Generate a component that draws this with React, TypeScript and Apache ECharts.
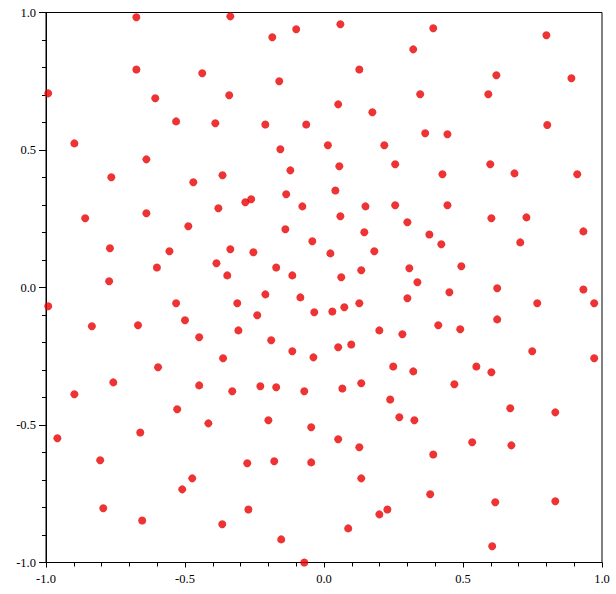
import React, { useEffect, useRef } from "react";
import * as echarts from "echarts";

const xTickLabels = ["-1.0", "-0.5", "0.0", "0.5", "1.0"];

const xValues: number[] = [
  -0.675, -0.337, -0.675, -0.438, -0.992, -0.607, -0.341, -0.532, -0.391, -0.898,
  -0.639, -0.765, -0.470, -0.365, -0.186, -0.100, 0.059, 0.127, -0.161, 0.051,
  0.174, -0.211, -0.064, -0.157, 0.014, 0.217, 0.256, -0.121, 0.055, -0.136,
  0.041, 0.393, 0.800, 0.321, 0.620, 0.890, 0.346, 0.591, 0.803, 0.364,
  0.444, 0.598, 0.685, 0.911, 0.426, -0.380, -0.859, -0.639, -0.488, -0.770,
  -0.556, -0.337, -0.601, -0.387, -0.348, -0.773, -0.992, -0.532, -0.500, -0.835,
  -0.669, -0.449, -0.363, -0.597, -0.283, -0.262, -0.078, 0.149, 0.256, 0.059,
  0.300, -0.139, 0.145, -0.042, -0.254, 0.023, 0.181, -0.172, -0.114, 0.062,
  0.134, 0.307, -0.211, -0.085, -0.312, -0.035, 0.030, 0.073, 0.127, 0.300,
  -0.240, -0.308, 0.199, 0.282, -0.190, -0.114, -0.038, 0.051, 0.098, 0.249,
  0.444, 0.602, 0.728, 0.933, 0.379, 0.422, 0.706, 0.494, 0.336, 0.451,
  0.623, 0.933, 0.767, 0.972, 0.623, 0.411, 0.490, 0.749, 0.972, 0.548,
  0.602, 0.321, -0.758, -0.898, -0.449, -0.330, -0.528, -0.416, -0.959, -0.661,
  -0.805, -0.474, -0.510, -0.794, -0.654, -0.366, -0.229, -0.172, -0.071, 0.066,
  0.134, 0.238, 0.271, -0.200, -0.046, 0.051, 0.127, -0.276, -0.179, -0.046,
  0.134, -0.272, 0.199, 0.228, 0.087, -0.154, -0.071, 0.469, 0.670, 0.832,
  0.325, 0.533, 0.674, 0.393, 0.382, 0.616, 0.832, 0.605,
];

const yValues: number[] = [
  0.983, 0.986, 0.793, 0.779, 0.706, 0.688, 0.699, 0.604, 0.597, 0.524,
  0.466, 0.401, 0.383, 0.408, 0.910, 0.939, 0.957, 0.793, 0.750, 0.666,
  0.637, 0.593, 0.593, 0.503, 0.517, 0.517, 0.448, 0.426, 0.441, 0.339,
  0.353, 0.943, 0.917, 0.866, 0.772, 0.761, 0.703, 0.703, 0.591, 0.561,
  0.557, 0.448, 0.415, 0.412, 0.412, 0.288, 0.252, 0.270, 0.223, 0.143,
  0.132, 0.139, 0.073, 0.088, 0.044, 0.023, -0.068, -0.057, -0.119, -0.141,
  -0.137, -0.181, -0.257, -0.290, 0.310, 0.321, 0.295, 0.295, 0.299, 0.259,
  0.237, 0.212, 0.201, 0.168, 0.128, 0.124, 0.132, 0.073, 0.044, 0.037,
  0.063, 0.070, -0.025, -0.036, -0.057, -0.090, -0.087, -0.072, -0.057, -0.039,
  -0.101, -0.156, -0.156, -0.170, -0.192, -0.232, -0.254, -0.217, -0.207, -0.287,
  0.299, 0.252, 0.255, 0.204, 0.193, 0.157, 0.164, 0.077, 0.019, -0.017,
  -0.003, -0.007, -0.057, -0.057, -0.116, -0.137, -0.152, -0.232, -0.257, -0.287,
  -0.308, -0.305, -0.345, -0.388, -0.356, -0.377, -0.443, -0.494, -0.548, -0.527,
  -0.628, -0.694, -0.734, -0.803, -0.847, -0.861, -0.359, -0.363, -0.377, -0.367,
  -0.348, -0.407, -0.472, -0.483, -0.508, -0.552, -0.581, -0.639, -0.632, -0.636,
  -0.694, -0.807, -0.825, -0.807, -0.876, -0.916, -1.0, -0.352, -0.439, -0.454,
  -0.483, -0.563, -0.574, -0.607, -0.752, -0.781, -0.777, -0.941,
];

export default function App() {
  const ref = useRef<HTMLDivElement>(null);

  useEffect(() => {
    if (!ref.current) return;
    const chart = echarts.init(ref.current, undefined, { renderer: "svg" });
    const points = xValues.map((x, i) => [x, yValues[i]]);
    const labelFmt = (v: number) => {
      const idx = Math.round((v + 1) / 0.5);
      return xTickLabels[idx] ?? v.toFixed(1);
    };
    const makeAxis = (tickLen: number, margin: number) => ({
      type: "value" as const,
      min: -1,
      max: 1,
      interval: 0.5,
      splitLine: { show: false },
      axisLine: { show: true, onZero: false, lineStyle: { color: "#000", width: 1 } },
      axisTick: { show: true, inside: false, length: tickLen, lineStyle: { color: "#000", width: 1 } },
      minorTick: { show: true, splitNumber: 5, length: 4, lineStyle: { color: "#000", width: 1 } },
      axisLabel: {
        show: true,
        color: "#000",
        fontFamily: "Liberation Serif",
        fontSize: 12.5,
        margin,
        formatter: labelFmt,
      },
    });
    chart.setOption({
      animation: false,
      backgroundColor: "#fff",
      grid: {
        left: 46,
        right: 14,
        top: 12.5,
        bottom: 31.5,
        show: true,
        borderColor: "#000",
        borderWidth: 1,
        backgroundColor: "transparent",
      },
      xAxis: { ...makeAxis(5, 10), position: "bottom" },
      yAxis: { ...makeAxis(7, 10), position: "left" },
      series: [
        {
          type: "scatter",
          data: points,
          symbol: "circle",
          symbolSize: 8,
          clip: false,
          itemStyle: { color: "#e80000" },
        },
      ],
    });
    return () => chart.dispose();
  }, []);

  return (
    <div
      ref={ref}
      style={{ position: "fixed", left: 0, top: 0, width: 616, height: 594 }}
    />
  );
}
